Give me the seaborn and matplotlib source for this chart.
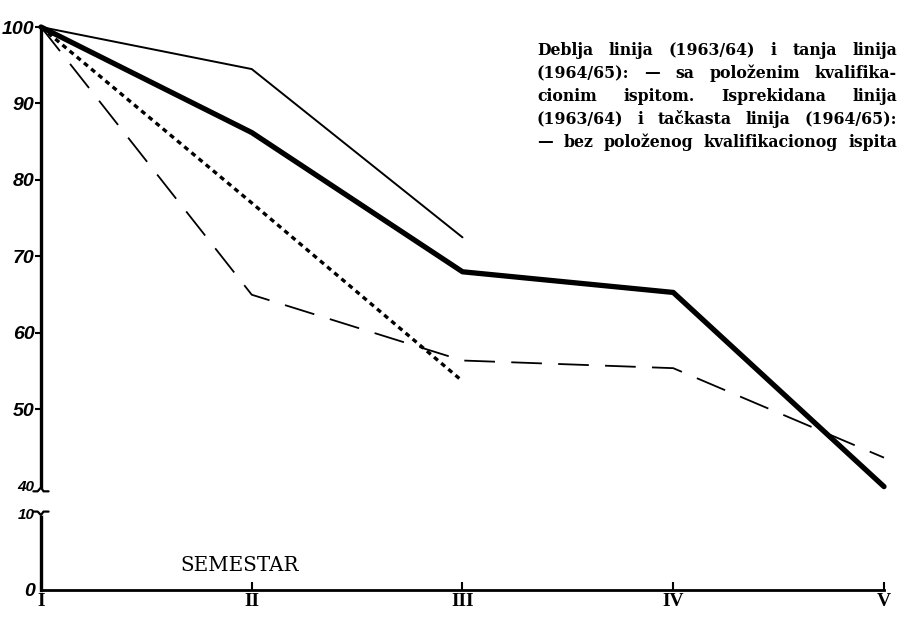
import numpy as np
import pandas as pd
import matplotlib
matplotlib.use("Agg")
import matplotlib.pyplot as plt
import matplotlib.transforms as mtransforms
import seaborn as sns

# values (percent of students still enrolled)
semesters = ["I", "II", "III", "IV", "V"]
thick_6364 = [100, 86.2, 68.0, 65.3, 39.3]      # deblja linija, sa ispitom
thin_6465 = [100, 94.5, 72.5]                   # tanja linija, sa ispitom
dashed_6364 = [100, 65.0, 56.4, 55.4, 43.7]     # isprekidana, bez ispita
dotted_6465 = [100, 77.0, 53.7]                 # tackasta, bez ispita
ytick_vals = [0, 10, 40, 50, 60, 70, 80, 90, 100]

note_lines = [
    "Deblja linija (1963/64) i tanja linija",
    "(1964/65): \u2014 sa položenim kvalifika-",
    "cionim ispitom. Isprekidana linija",
    "(1963/64) i tačkasta linija (1964/65):",
    "\u2014 bez položenog kvalifikacionog ispita",
]

# broken y axis: 10..40 squeezed into a short gap
LO, HI, GAP = 10.0, 40.0, 3.6


def fwd(v):
    v = np.asarray(v, dtype=float)
    return np.where(v <= LO, v, np.where(v >= HI, v - HI + LO + GAP,
                                         LO + (v - LO) * GAP / (HI - LO)))


def inv(d):
    d = np.asarray(d, dtype=float)
    return np.where(d <= LO, d, np.where(d >= LO + GAP, d + HI - LO - GAP,
                                         LO + (d - LO) * (HI - LO) / GAP))


sns.set_style("ticks", {"axes.edgecolor": "black", "text.color": "black",
                        "xtick.color": "black", "ytick.color": "black"})
plt.rcParams["font.family"] = ["DejaVu Sans"]

fig = plt.figure(figsize=(9.03, 6.27), dpi=100)
ax = fig.add_axes([41 / 903, 37 / 627, 843 / 903, 563 / 627])

x_all = np.arange(len(semesters))
df_thick = pd.DataFrame({"x": x_all, "y": thick_6364})
df_dash = pd.DataFrame({"x": x_all, "y": dashed_6364})
df_thin = pd.DataFrame({"x": x_all[:len(thin_6465)], "y": thin_6465})
df_dot = pd.DataFrame({"x": x_all[:len(dotted_6465)], "y": dotted_6465})

sns.lineplot(data=df_thin, x="x", y="y", ax=ax, color="black", linewidth=1.4)
sns.lineplot(data=df_dash, x="x", y="y", ax=ax, color="black", linewidth=1.3,
             linestyle=(0, (17, 9)))
sns.lineplot(data=df_dot, x="x", y="y", ax=ax, color="black", linewidth=2.4,
             linestyle=(0, (1.5, 1.3)))
sns.lineplot(data=df_thick, x="x", y="y", ax=ax, color="black", linewidth=3.8,
             solid_joinstyle="round")
for ln in ax.lines:
    ln.set_clip_on(False)

ax.set_yscale("function", functions=(fwd, inv))
ax.set_xlim(0, len(semesters) - 1)
ax.set_ylim(0, 100)
ax.set_xlabel("")
ax.set_ylabel("")

ax.set_xticks(x_all)
ax.set_xticklabels(semesters, family="Liberation Serif", fontweight="bold",
                   fontsize=14, color="black")
ax.set_yticks(ytick_vals)
ax.set_yticklabels([str(v) for v in ytick_vals], fontweight="bold",
                   fontstyle="italic", fontsize=14, family="Liberation Sans",
                   color="black")
for lab, v in zip(ax.get_yticklabels(), ytick_vals):
    if v in (10, 40):
        lab.set_fontsize(11)
ax.tick_params(axis="x", direction="in", length=6, width=1.5, pad=2)
ax.tick_params(axis="y", direction="out", length=4, width=1.5, pad=0.5)
ax.yaxis.get_major_ticks()[0].tick1line.set_visible(False)
for t, v in zip(ax.yaxis.get_major_ticks(), ytick_vals):
    if v in (10, 40):
        t.tick1line.set_visible(False)

sns.despine(ax=ax)
ax.spines["left"].set_linewidth(2.4)
ax.spines["bottom"].set_linewidth(2.0)

# break marks on the y axis: white gap plus two small hooks
bt = mtransforms.blended_transform_factory(ax.transAxes, ax.transData)
gap_lo = float(inv(fwd(LO) + 0.25))
gap_hi = float(inv(fwd(HI) - 0.7))
ax.plot([0, 0], [gap_lo, gap_hi], transform=bt, color="white", lw=5,
        clip_on=False, zorder=5)
hook_up = float(inv(fwd(HI) - 0.2))
ax.plot([-0.009, -0.004, 0.0, 0.003, 0.009],
        [gap_hi, gap_hi, hook_up, gap_hi, gap_hi],
        transform=bt, color="black", lw=1.6, clip_on=False, zorder=6)
hook_dn = float(inv(fwd(LO) - 0.2))
ax.plot([-0.009, -0.004, 0.0, 0.003, 0.009],
        [gap_lo, gap_lo, hook_dn, gap_lo, gap_lo],
        transform=bt, color="black", lw=1.6, clip_on=False, zorder=6)

fig.text(180 / 903, 1 - 571 / 627, "SEMESTAR", family="DejaVu Serif",
         fontsize=14.3)

# justified note block, top right
renderer = fig.canvas.get_renderer()
left_px, right_px, top_px, step_px = 537, 897, 55, 23
for i, line in enumerate(note_lines):
    words = line.split(" ")
    y = 1 - (top_px + i * step_px) / 627
    txts = [fig.text(0, y, w, family="DejaVu Serif", fontweight="bold",
                     fontsize=11.3, va="baseline", ha="left") for w in words]
    widths = [t.get_window_extent(renderer).width for t in txts]
    space = max((right_px - left_px - sum(widths)) / max(len(words) - 1, 1), 3)
    xpos = left_px
    for t, w in zip(txts, widths):
        t.set_x(xpos / 903)
        xpos += w + space

fig.savefig("out.png", dpi=100, facecolor="white")
